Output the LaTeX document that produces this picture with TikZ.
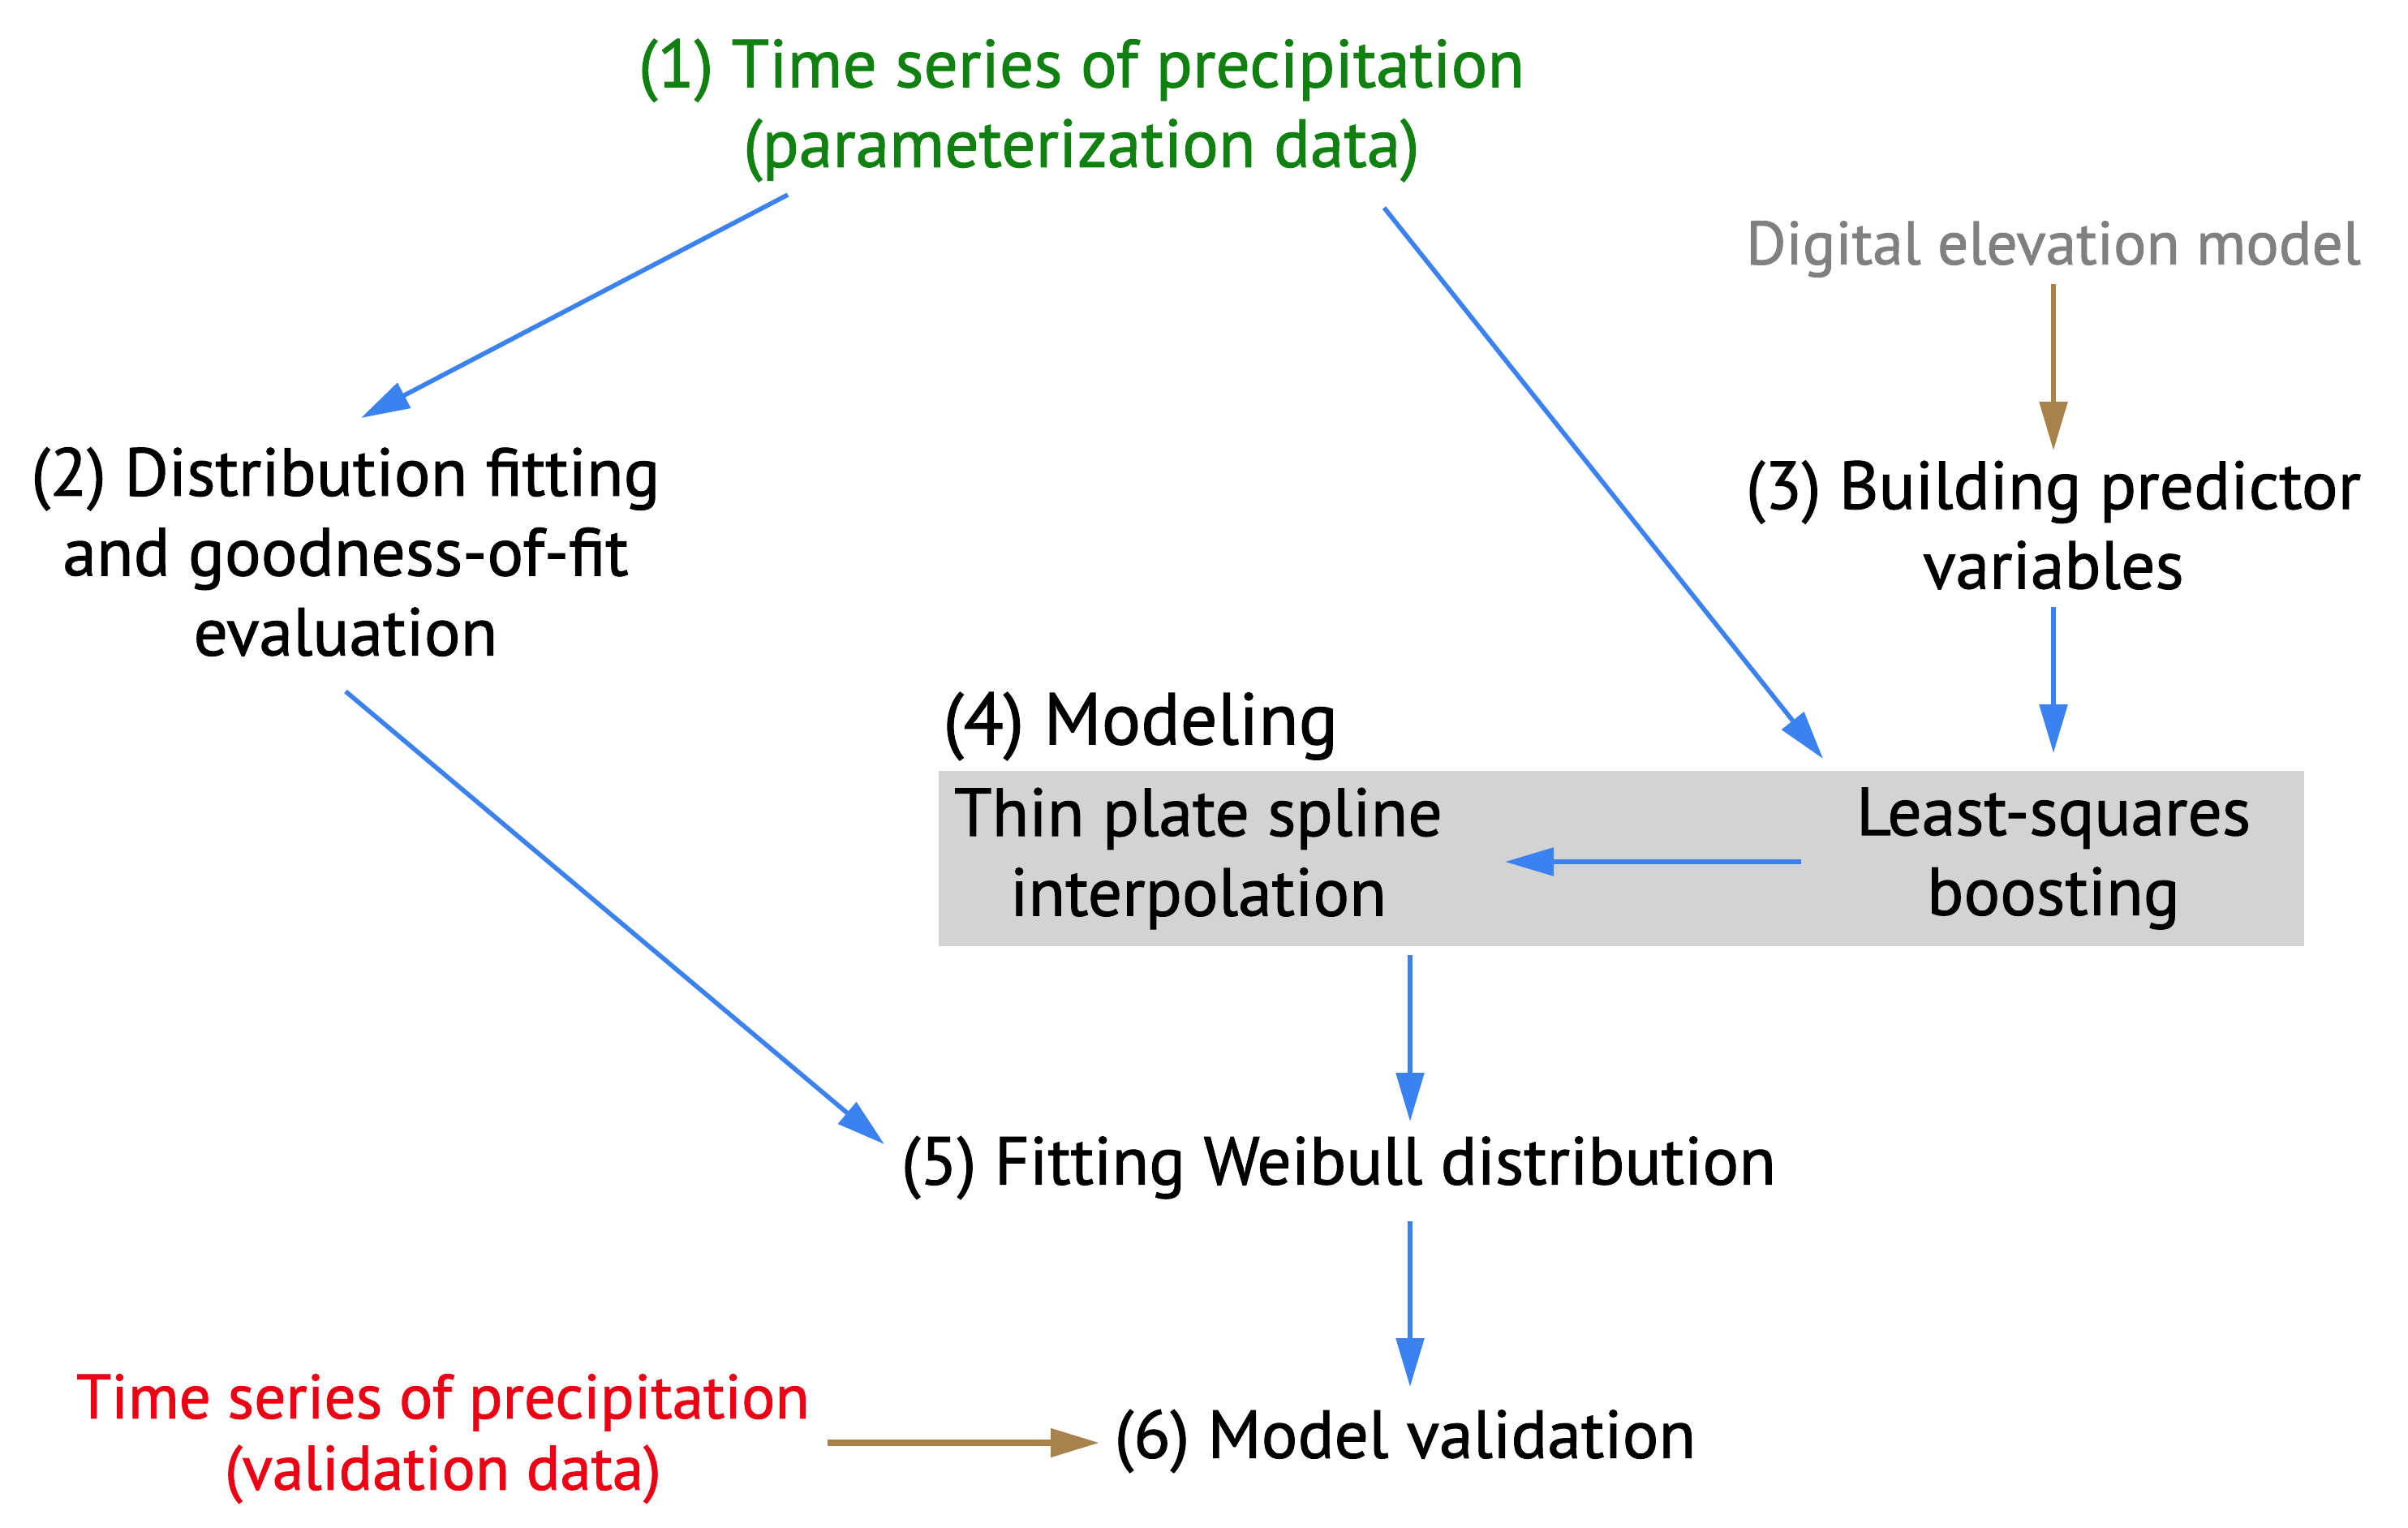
\documentclass[tikz,border=0pt]{standalone}
\usepackage{fontspec}
\setmainfont[FakeBold=1.2]{PT Sans}
\usepackage{tikz}
\usetikzlibrary{arrows.meta}

\definecolor{flowblue}{RGB}{59,130,240}
\definecolor{flowbrown}{RGB}{168,130,74}
\definecolor{paramgreen}{RGB}{16,128,16}
\definecolor{validred}{RGB}{235,0,20}
\definecolor{demgray}{RGB}{128,128,128}
\definecolor{boxgray}{RGB}{211,211,211}

\begin{document}
\begin{tikzpicture}[
		step label/.style={align=center, font=\fontsize{23.8}{28}\selectfont},
		flow/.style={flowblue, line width=1.6pt, -{Triangle[length=6mm,width=3.4mm]}},
		input/.style={flowbrown, line width=1.6pt, -{Triangle[length=6mm,width=3.4mm]}}
	]
			\useasboundingbox (0,0) rectangle (29.68,-18.82);
			% modeling box
			\fill[boxgray] (11.57,-9.50) rectangle (28.40,-11.66);
			\node[anchor=west, font=\fontsize{25.7}{28}\selectfont] (model) at (11.50,-8.95) {(4) Modeling};
			% steps
			\node[step label, paramgreen] (param) at (13.33,-1.36) {(1) Time series of precipitation\\(parameterization data)};
			\node[step label, demgray, font=\fontsize{21.5}{28}\selectfont] (dem) at (25.31,-3.07) {Digital elevation model};
			\node[step label] (fit) at (4.26,-6.80) {(2) Distribution fitting\\and goodness-of-fit\\evaluation};
			\node[step label] (pred) at (25.31,-6.47) {(3) Building predictor\\variables};
			\node[step label] (tps) at (14.77,-10.58) {Thin plate spline\\interpolation};
			\node[step label] (lsb) at (25.31,-10.58) {Least-squares\\boosting};
			\node[step label] (weib) at (16.50,-14.39) {(5) Fitting Weibull distribution};
			\node[step label] (valid) at (17.32,-17.76) {(6) Model validation};
			\node[step label, validred, font=\fontsize{22}{25}\selectfont] (vdata) at (5.46,-17.73) {Time series of precipitation\\(validation data)};
			% connectors
			\draw[flow] ([shift={(-3.62,-1.04)}]param.center) -- ([shift={(0.19,1.65)}]fit.center);
			\draw[flow] ([shift={(3.73,-1.20)}]param.center) -- ([shift={(-2.84,1.23)}]lsb.center);
			\draw[input] ([yshift=-0.43cm]dem.center) -- ([yshift=0.92cm]pred.center);
			\draw[flow] ([yshift=-1.01cm]pred.center) -- ([yshift=1.30cm]lsb.center);
			\draw[flow] ([xshift=-3.11cm,yshift=-0.04cm]lsb.center) -- ([xshift=3.78cm,yshift=-0.04cm]tps.center);
			\draw[flow] ([shift={(0,-1.72)}]fit.center) -- ([shift={(-5.60,0.29)}]weib.center);
			\draw[flow] ([shift={(2.61,-1.19)}]tps.center) -- ([shift={(0.88,0.57)}]weib.center);
			\draw[flow] ([shift={(0.88,-0.66)}]weib.center) -- ([shift={(0.06,0.67)}]valid.center);
			\draw[input, line width=2.2pt] ([shift={(4.74,-0.05)}]vdata.center) -- ([shift={(-3.77,-0.02)}]valid.center);
		\end{tikzpicture}
\end{document}
